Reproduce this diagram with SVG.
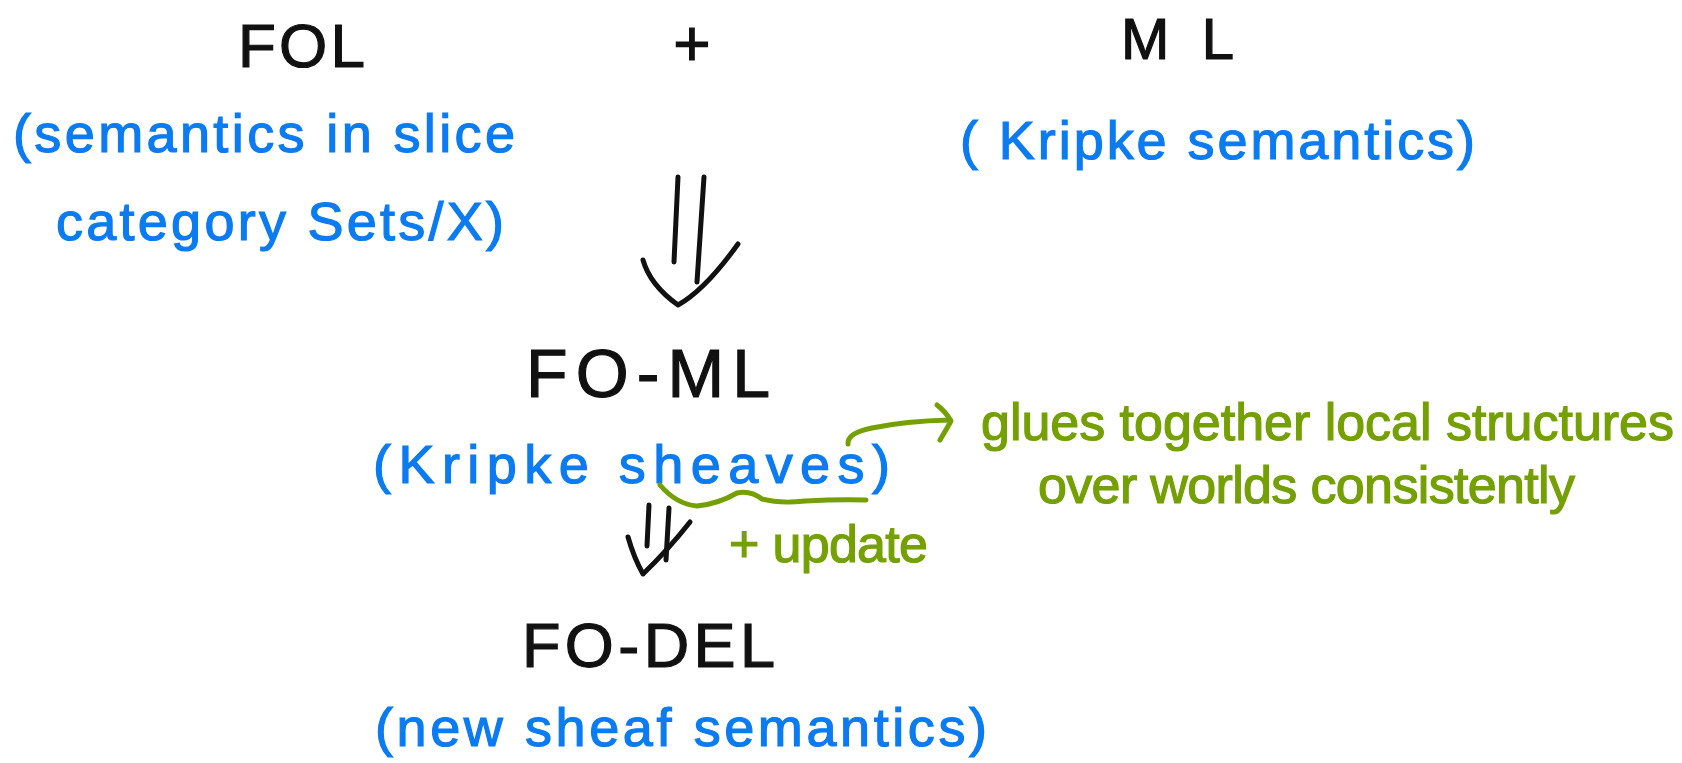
<svg xmlns="http://www.w3.org/2000/svg" width="1682" height="763" viewBox="0 0 1682 763">
  <style>
    .t { font-family: "Liberation Sans", Arial, sans-serif; stroke-width: 1.2; }
    .k { fill: #111111; stroke: #111111; }
    .b { fill: #0B7BF2; stroke: #0B7BF2; }
    .g { fill: #74A003; stroke: #74A003; }
    .ink { fill: none; stroke-linecap: round; stroke-linejoin: round; stroke-width: 5; }
    .inkk { stroke: #111111; }
    .inkg { stroke: #74A003; }
  </style>
  <rect width="1682" height="763" fill="#ffffff"/>

  <g id="fol">
    <text class="t k" x="238" y="67" font-size="62" textLength="127" lengthAdjust="spacing">FOL</text>
    <text class="t b" x="13" y="152" font-size="54" textLength="502" lengthAdjust="spacing">(semantics in slice</text>
    <text class="t b" x="56" y="240" font-size="54" textLength="448" lengthAdjust="spacing">category Sets/X)</text>
  </g>

  <g id="plus">
    <text class="t k" x="692" y="66" font-size="64" text-anchor="middle">+</text>
  </g>

  <g id="ml">
    <text class="t k" x="1121" y="59" font-size="58" textLength="113" lengthAdjust="spacing">ML</text>
    <text class="t b" x="960" y="159" font-size="54" textLength="515" lengthAdjust="spacing">( Kripke semantics)</text>
  </g>

  <g id="fo-ml">
    <text class="t k" x="526" y="397" font-size="68" textLength="244" lengthAdjust="spacing">FO-ML</text>
    <text class="t b" x="373" y="483" font-size="54" textLength="517" lengthAdjust="spacing">(Kripke sheaves)</text>
  </g>

  <g id="sheaf-note">
    <text class="t g" x="981" y="440" font-size="52" textLength="693" lengthAdjust="spacing">glues together local structures</text>
    <text class="t g" x="1038" y="503" font-size="52" textLength="537" lengthAdjust="spacing">over worlds consistently</text>
  </g>

  <g id="update-label">
    <text class="t g" x="729" y="562" font-size="52" textLength="199" lengthAdjust="spacing">+ update</text>
  </g>

  <g id="fo-del">
    <text class="t k" x="522" y="667" font-size="63" textLength="253" lengthAdjust="spacing">FO-DEL</text>
    <text class="t b" x="375" y="746" font-size="54" textLength="612" lengthAdjust="spacing">(new sheaf semantics)</text>
  </g>

  <g id="connectors">
    <!-- double arrow FOL + ML to FO-ML -->
    <path class="ink inkk" d="M678 177 L674 262"/>
    <path class="ink inkk" d="M704 177 L697 282"/>
    <path class="ink inkk" d="M643 260 Q650 285 678 305 Q705 290 738 244"/>
    <!-- double arrow FO-ML to FO-DEL -->
    <path class="ink inkk" d="M649 505 L647 546"/>
    <path class="ink inkk" d="M669 508 L666 560"/>
    <path class="ink inkk" d="M628 537 Q634 558 643 574 Q668 550 690 522"/>
    <!-- wavy underline under "sheaves" -->
    <path class="ink inkg" d="M660 485 Q676 504 697 506 Q718 504 737 493 Q750 490 762 499 Q780 504 805 501 Q840 499 866 500"/>
    <!-- annotation arrow from "sheaves" to the note -->
    <path class="ink inkg" d="M848 444 Q847 433 872 428 Q905 421 950 420"/>
    <path class="ink inkg" d="M937 405 Q946 412 951 421 Q946 430 940 440"/>
  </g>
</svg>
